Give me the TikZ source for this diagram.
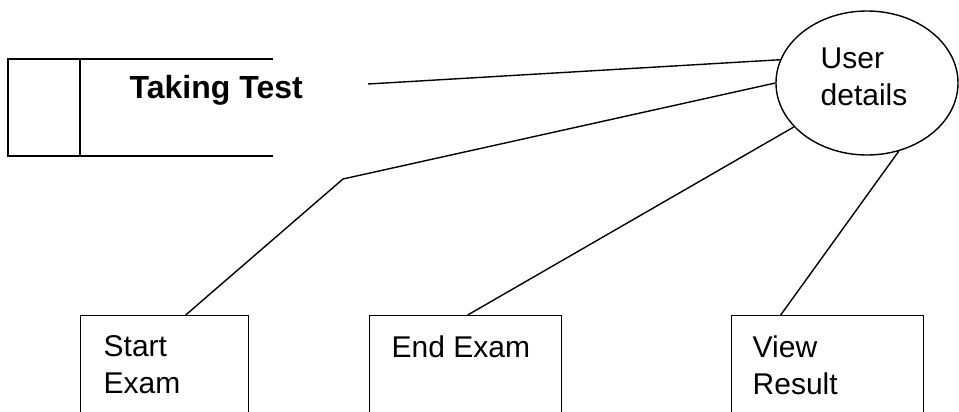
\documentclass[tikz,border=0pt]{standalone}
\usepackage{fontspec}
\setmainfont{Liberation Sans}
\usetikzlibrary{shapes.geometric}
\begin{document}
\begin{tikzpicture}[x=1pt,y=-1pt,line width=1.4pt,
  txt/.style={inner sep=0pt,anchor=north west,align=left,font=\fontsize{30}{37}\selectfont},
  boldtxt/.style={inner sep=0pt,anchor=base west,font=\fontsize{32}{38}\selectfont\bfseries},
  exbox/.style={draw,rectangle,anchor=north west,minimum height=140pt,inner sep=0pt},
  ent/.style={draw,ellipse,minimum width=182pt,minimum height=144pt,inner sep=0pt},
  conn/.style={draw,line width=1.4pt}]
\useasboundingbox (0,0) rectangle (959,412);
\clip (0,0) rectangle (959,412);
% data store
\draw (273,59) -- (8,59) -- (8,156) -- (273,156);
\draw (80,59) -- (80,156);
\node[boldtxt] (tt) at (129,99) {Taking Test};
% entity
\node[ent] (ud) at (867,83) {};
\node[txt] (udt) at (820,47) {User\\details};
% boxes
\node[exbox,minimum width=168pt] (se) at (80,315) {};
\node[txt] (set) at (103,335) {Start\\Exam};
\node[exbox,minimum width=192pt] (ee) at (369,315) {};
\node[txt] (eet) at (391,335) {End Exam};
\node[exbox,minimum width=192pt] (vr) at (731,315) {};
\node[txt] (vrt) at (752,335) {View\\Result};
% connectors
\coordinate (c1) at (368,84);
\coordinate (bend) at (343,179);
\draw[conn] (c1) -- (ud.165);
\draw[conn] ([xshift=21pt]se.north) -- (bend) -- (ud.180);
\draw[conn] ([xshift=2pt]ee.north) -- (ud.211);
\draw[conn] ([xshift=-47pt]vr.north) -- (ud.295);
\end{tikzpicture}
\end{document}
